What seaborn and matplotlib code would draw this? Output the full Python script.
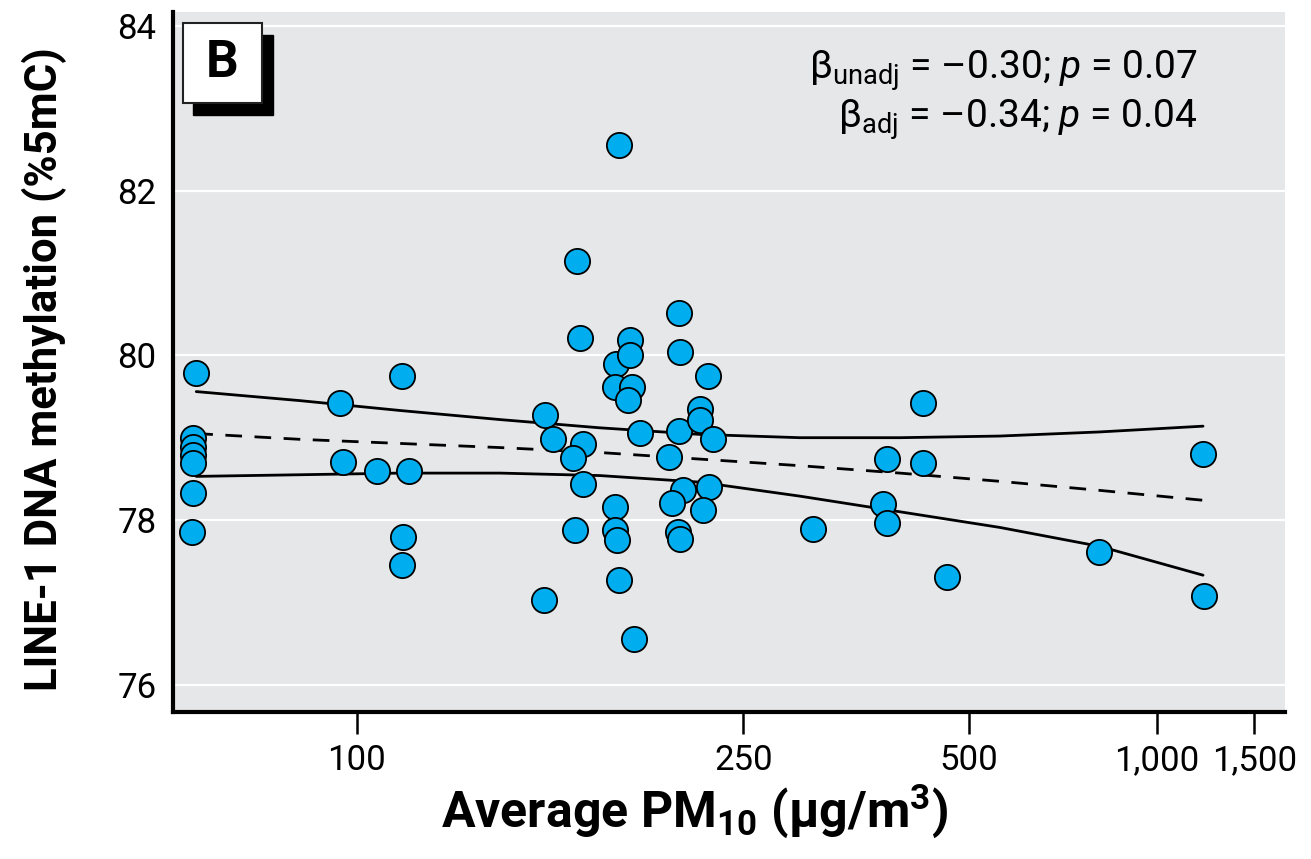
import numpy as np
import pandas as pd
import seaborn as sns
import matplotlib.pyplot as plt
import matplotlib.patches as mpatches

# average PM10 (ug/m3) and LINE-1 methylation (%5mC)
pm10 = [74.2, 73.8, 73.8, 73.8, 73.8, 73.8, 73.6,
        96.8, 97.3, 104.3, 109.6, 111.4, 110.0, 109.6,
        150.4, 153.4, 150.1,
        162.2, 163.5, 164.6, 160.9, 164.8, 161.5,
        179.9, 178.5, 185.1, 185.0, 178.2, 185.8, 184.1, 189.7, 178.2, 178.2, 179.2, 180.0, 186.9,
        210.1, 210.5, 210.1, 204.6, 222.0, 222.0, 212.3, 205.9, 209.5, 210.5, 227.0, 229.7, 227.6, 223.6,
        305.5, 382.3, 378.2, 382.3, 429.9, 429.9, 464.3, 798.3, 1206, 1210]
methyl = [79.78, 79.00, 78.89, 78.79, 78.69, 78.33, 77.85,
          79.42, 78.70, 78.59, 79.75, 78.59, 77.79, 77.45,
          79.28, 78.98, 77.03,
          81.14, 80.21, 78.92, 78.75, 78.44, 77.88,
          82.56, 79.89, 80.19, 80.00, 79.62, 79.62, 79.46, 79.06, 78.16, 77.88, 77.76, 77.27, 76.56,
          80.52, 80.04, 79.08, 78.77, 79.35, 79.22, 78.37, 78.21, 77.86, 77.77, 79.75, 78.98, 78.40, 78.12,
          77.89, 78.74, 78.20, 77.96, 79.42, 78.69, 77.31, 77.61, 78.80, 77.08]

# fitted line and 95% band, read at several PM10 values
fit_x = [74.2, 89.6, 109.3, 135.6, 171.6, 222.0, 293.8, 398.9, 556.6, 800.4, 1206]
fit_mid = [79.05, 78.98, 78.93, 78.88, 78.82, 78.74, 78.66, 78.57, 78.47, 78.36, 78.24]
fit_up = [79.56, 79.45, 79.33, 79.22, 79.12, 79.04, 79.00, 79.00, 79.02, 79.07, 79.14]
fit_lo = [78.53, 78.55, 78.57, 78.57, 78.54, 78.46, 78.29, 78.10, 77.91, 77.68, 77.33]

xticks = [100, 250, 500, 1000, 1500]
xticklabels = ["100", "250", "500", "1,000", "1,500"]
yticks = [76, 78, 80, 82, 84]

df = pd.DataFrame({"pm10": pm10, "methyl": methyl})
fits = pd.DataFrame({"x": fit_x, "mid": fit_mid, "up": fit_up, "lo": fit_lo})

sns.set_style("darkgrid", {"axes.facecolor": "#E6E7E8", "grid.color": "white"})
plt.rcParams["font.family"] = ["Roboto", "DejaVu Sans"]
plt.rcParams["mathtext.fontset"] = "custom"
plt.rcParams["mathtext.rm"] = "Roboto"
plt.rcParams["mathtext.it"] = "Roboto:italic"
plt.rcParams["mathtext.bf"] = "Roboto:bold"
for k in ["text.color", "axes.labelcolor", "xtick.color", "ytick.color"]:
    plt.rcParams[k] = "black"

fig = plt.figure(figsize=(13.11, 8.59), dpi=100)
ax = fig.add_axes([0.132, 0.171, 0.848, 0.815])

sns.lineplot(data=fits, x="x", y="up", ax=ax, color="black", lw=2.0, estimator=None)
sns.lineplot(data=fits, x="x", y="lo", ax=ax, color="black", lw=2.0, estimator=None)
sns.lineplot(data=fits, x="x", y="mid", ax=ax, color="black", lw=2.0, estimator=None,
             linestyle=(0, (6, 4.5)))
sns.scatterplot(data=df, x="pm10", y="methyl", ax=ax, s=330, color="#00AEEF",
                edgecolor="black", linewidth=1.3, zorder=3)

# x axis is drawn on a log(log(x/10)) scale
ax.set_xscale("function", functions=(lambda v: np.log(np.log(np.maximum(v, 10.5) / 10)),
                                     lambda u: 10 * np.exp(np.exp(u))))
ax.set_xlim(71.3, 1714)
ax.set_ylim(75.667, 84.17)
ax.set_xticks(xticks)
ax.set_xticklabels(xticklabels)
ax.set_yticks(yticks)
ax.xaxis.set_minor_locator(plt.NullLocator())
ax.grid(axis="x", visible=False)
ax.grid(axis="y", color="white", lw=1.6)

for s in ["top", "right"]:
    ax.spines[s].set_visible(False)
for s in ["left", "bottom"]:
    ax.spines[s].set_visible(True)
    ax.spines[s].set_color("black")
    ax.spines[s].set_linewidth(3)

ax.tick_params(axis="x", length=16, width=1.8, color="black", pad=7, labelsize=25, bottom=True)
ax.tick_params(axis="y", length=0, pad=12, labelsize=25)

ax.set_xlabel(r"Average PM$_{\mathbf{10}}$ (µg/m$^{\mathbf{3}}$)", fontsize=36, fontweight="bold")
ax.set_ylabel("LINE-1 DNA methylation (%5mC)", fontsize=31.5, fontweight="bold")
ax.xaxis.set_label_coords(0.469, -0.1)
ax.yaxis.set_label_coords(-0.095, 0.49)

ax.text(0.922, 0.905, r"β$_{\mathrm{unadj}}$ = –0.30; $\mathit{p}$ = 0.07", transform=ax.transAxes,
        ha="right", va="baseline", fontsize=28)
ax.text(0.922, 0.835, r"β$_{\mathrm{adj}}$ = –0.34; $\mathit{p}$ = 0.04", transform=ax.transAxes,
        ha="right", va="baseline", fontsize=28)

# panel letter box with drop shadow
ax.add_patch(mpatches.Rectangle((0.018, 0.853), 0.072, 0.114, transform=ax.transAxes,
                                facecolor="black", edgecolor="black", zorder=5, clip_on=False))
ax.add_patch(mpatches.Rectangle((0.009, 0.870), 0.071, 0.114, transform=ax.transAxes,
                                facecolor="white", edgecolor="#222222", lw=1.5, zorder=6, clip_on=False))
ax.text(0.0445, 0.927, "B", transform=ax.transAxes, ha="center", va="center",
        fontsize=37, fontweight="bold", zorder=7)

fig.savefig("out.png", dpi=100)
